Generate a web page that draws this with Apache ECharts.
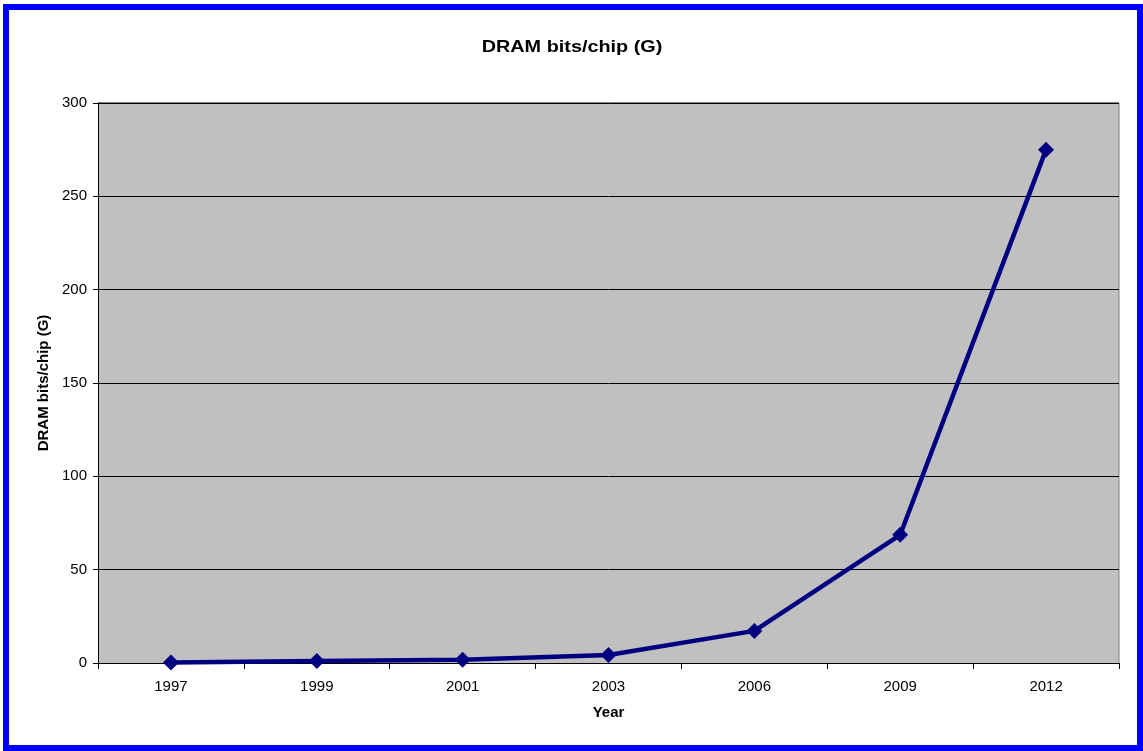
<!DOCTYPE html>
<html>
<head>
<meta charset="utf-8">
<script src="https://cdn.jsdelivr.net/npm/echarts@6/dist/echarts.min.js"></script>
<style>
  html, body { margin: 0; padding: 0; background: #fff; }
  #frame {
    position: absolute; left: 3px; top: 4px; width: 1128px; height: 735px;
    border: 6px solid #0000ff; background: #fff;
  }
  #chart { width: 1128px; height: 735px; }
</style>
</head>
<body>
<div id="frame"><div id="chart"></div></div>
<script>
const years = ['1997', '1999', '2001', '2003', '2006', '2009', '2012'];
const bitsPerChip = [0.26, 1.07, 1.7, 4.29, 17.2, 68.7, 275];
const yTicks = { min: 0, max: 300, interval: 50 };

const chart = echarts.init(document.getElementById('chart'));
const font = 'Liberation Sans, Arial, sans-serif';
const plot = { left: 89, right: 18, top: 93, bottom: 82 };
const plotRight = 1128 - plot.right;
const plotBottom = 735 - plot.bottom;

chart.setOption({
  animation: false,
  grid: {
    left: plot.left, right: plot.right, top: plot.top, bottom: plot.bottom,
    show: true, backgroundColor: '#c0c0c0', borderWidth: 0,
  },
  xAxis: {
    type: 'category',
    data: years,
    boundaryGap: true,
    name: 'Year',
    nameLocation: 'middle',
    nameGap: 42,
    nameTextStyle: { fontFamily: font, fontSize: 15, fontWeight: 'bold', color: '#000' },
    axisLine: { lineStyle: { color: '#000', width: 1 } },
    axisTick: { show: true, length: 6, lineStyle: { color: '#000' } },
    axisLabel: { fontFamily: font, fontSize: 15, color: '#000', margin: 16 },
    splitLine: { show: false },
  },
  yAxis: {
    type: 'value',
    min: yTicks.min,
    max: yTicks.max,
    interval: yTicks.interval,
    name: 'DRAM bits/chip (G)',
    nameLocation: 'middle',
    nameGap: 47,
    nameTextStyle: { fontFamily: font, fontSize: 15, fontWeight: 'bold', color: '#000' },
    axisLine: { show: true, lineStyle: { color: '#000', width: 1 } },
    axisTick: { show: true, length: 5, lineStyle: { color: '#000' } },
    axisLabel: { fontFamily: font, fontSize: 15, color: '#000', margin: 11 },
    splitLine: { show: true, lineStyle: { color: '#000', width: 1 } },
  },
  series: [{
    type: 'line',
    data: bitsPerChip,
    symbol: 'diamond',
    symbolSize: 16,
    lineStyle: { color: '#000080', width: 4.5 },
    itemStyle: { color: '#000080' },
  }],
  graphic: [
    // title is drawn a bit stretched in the original
    {
      type: 'text', x: 563, y: 38, scaleX: 1.28, scaleY: 1.05,
      style: {
        text: 'DRAM bits/chip (G)', fontFamily: font, fontSize: 15.5, fontWeight: 'bold',
        fill: '#000', align: 'center', verticalAlign: 'middle',
      },
    },
    // gray top/right plot border
    { type: 'line', shape: { x1: plot.left, y1: plot.top, x2: plotRight, y2: plot.top }, style: { stroke: '#808080', lineWidth: 2 } },
    { type: 'line', shape: { x1: plotRight, y1: plot.top, x2: plotRight, y2: plotBottom }, style: { stroke: '#808080', lineWidth: 1 } },
  ],
});
</script>
</body>
</html>
